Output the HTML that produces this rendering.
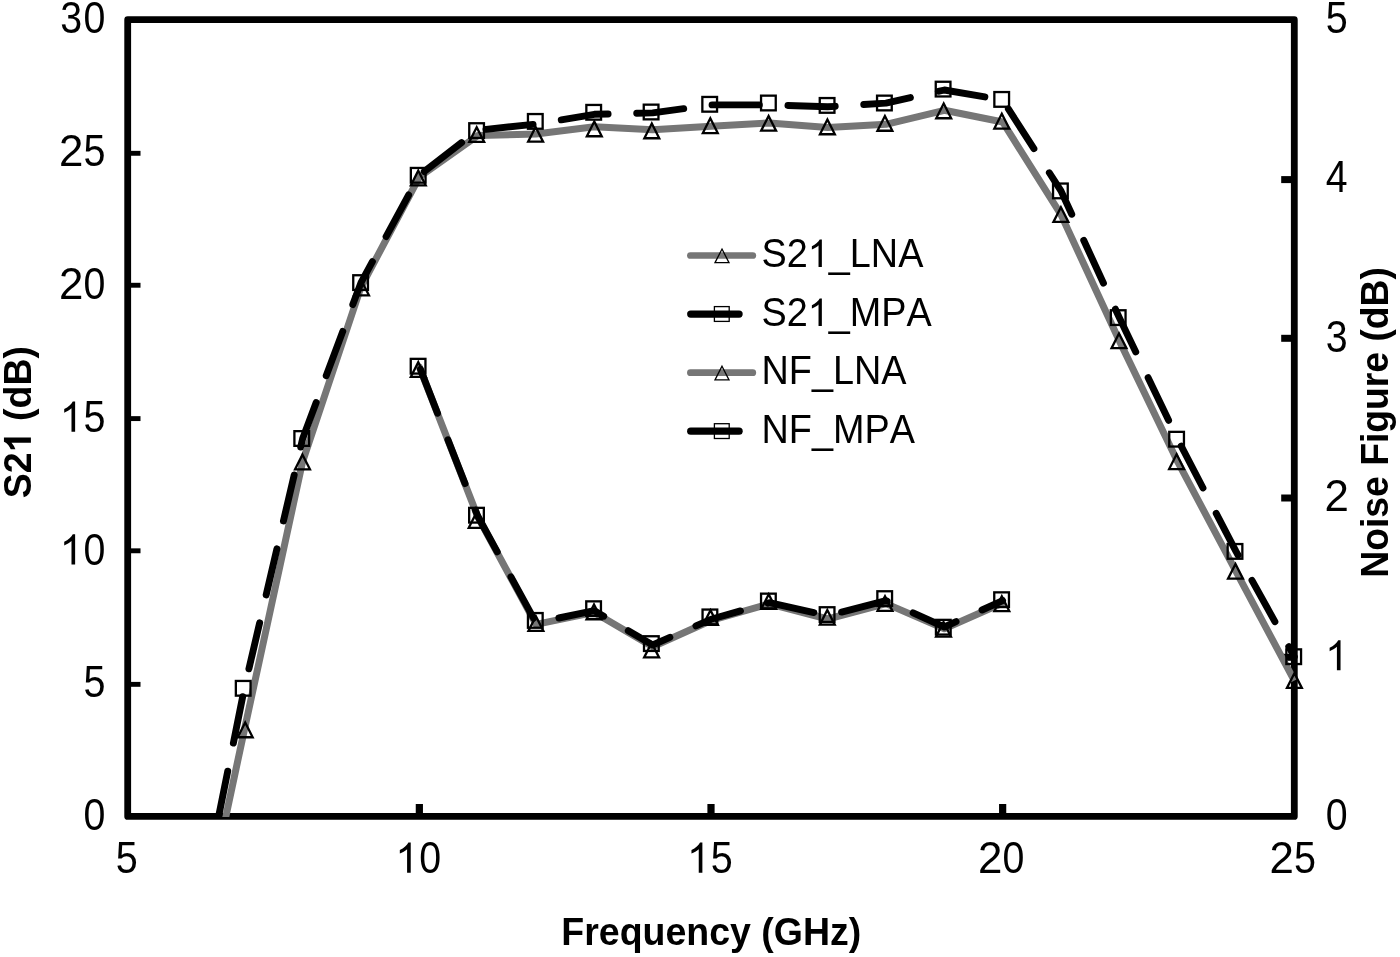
<!DOCTYPE html>
<html><head><meta charset="utf-8"><title>S21 and Noise Figure vs Frequency</title>
<style>
html,body{margin:0;padding:0;background:#fff;}
body{width:1400px;height:957px;overflow:hidden;}
svg{display:block;will-change:transform;}
text{font-family:"Liberation Sans",sans-serif;fill:#000;font-kerning:none;white-space:pre;}
.tk{font-size:41.4px;}
.ttl{font-size:37.5px;font-weight:bold;}
.lg{font-size:37.3px;}
</style></head><body>
<svg width="1400" height="957" viewBox="0 0 1400 957">
<defs><clipPath id="cp"><rect x="100" y="0" width="1300" height="817.0"/></clipPath></defs>
<rect x="0" y="0" width="1400" height="957" fill="#fff"/>

<rect x="127.7" y="19.7" width="1166.6" height="796.6999999999999" fill="none" stroke="#000" stroke-width="6.8" stroke-linejoin="round"/>
<rect x="127.7" y="681.90" width="12.8" height="4.9" fill="#000"/>
<rect x="127.7" y="548.35" width="12.8" height="4.9" fill="#000"/>
<rect x="127.7" y="416.15" width="12.8" height="4.9" fill="#000"/>
<rect x="127.7" y="282.80" width="12.8" height="4.9" fill="#000"/>
<rect x="127.7" y="150.85" width="12.8" height="4.9" fill="#000"/>
<rect x="1281.2" y="653.80" width="13.1" height="7" fill="#000"/>
<rect x="1281.2" y="494.50" width="13.1" height="7" fill="#000"/>
<rect x="1281.2" y="334.80" width="13.1" height="7" fill="#000"/>
<rect x="1281.2" y="176.10" width="13.1" height="7" fill="#000"/>
<rect x="415.75" y="804.00" width="7.2" height="12.4" fill="#000"/>
<rect x="707.40" y="804.00" width="7.2" height="12.4" fill="#000"/>
<rect x="999.05" y="804.00" width="7.2" height="12.4" fill="#000"/>
<g transform="translate(106.10,830.10)"><text class="tk" transform="translate(-22.56,0) scale(0.9500,1.062)">0</text></g>
<g transform="translate(106.10,697.32)"><text class="tk" transform="translate(-22.62,0) scale(0.9550,1.062)">5</text></g>
<g transform="translate(106.10,564.53)"><path d="M763 0H583V1147Q518 1085 412.5 1023Q307 961 223 930V1104Q374 1175 487 1276Q600 1377 647 1472H763Z" transform="translate(-46.39,0) scale(0.02021,-0.02054)"/><text class="tk" transform="translate(-22.56,0) scale(0.9500,1.062)">0</text></g>
<g transform="translate(106.10,431.75)"><path d="M763 0H583V1147Q518 1085 412.5 1023Q307 961 223 930V1104Q374 1175 487 1276Q600 1377 647 1472H763Z" transform="translate(-46.39,0) scale(0.02021,-0.02054)"/><text class="tk" transform="translate(-22.62,0) scale(0.9550,1.062)">5</text></g>
<g transform="translate(106.10,298.97)"><text class="tk" transform="translate(-47.09,0) scale(1.0600,1.062)">2</text><text class="tk" transform="translate(-22.56,0) scale(0.9500,1.062)">0</text></g>
<g transform="translate(106.10,166.18)"><text class="tk" transform="translate(-47.09,0) scale(1.0600,1.062)">2</text><text class="tk" transform="translate(-22.62,0) scale(0.9550,1.062)">5</text></g>
<g transform="translate(106.10,33.40)"><text class="tk" transform="translate(-45.82,0) scale(0.9500,1.062)">3</text><text class="tk" transform="translate(-22.56,0) scale(0.9500,1.062)">0</text></g>
<g transform="translate(1325.00,829.70)"><text class="tk" transform="translate(0.69,0) scale(0.9500,1.062)">0</text></g>
<g transform="translate(1325.00,670.36)"><path d="M763 0H583V1147Q518 1085 412.5 1023Q307 961 223 930V1104Q374 1175 487 1276Q600 1377 647 1472H763Z" transform="translate(0.12,0) scale(0.02021,-0.02054)"/></g>
<g transform="translate(1325.00,511.02)"><text class="tk" transform="translate(-0.58,0) scale(1.0600,1.062)">2</text></g>
<g transform="translate(1325.00,351.68)"><text class="tk" transform="translate(0.69,0) scale(0.9500,1.062)">3</text></g>
<g transform="translate(1325.00,192.34)"><text class="tk" transform="translate(0.71,0) scale(0.9480,1.062)">4</text></g>
<g transform="translate(1325.00,33.00)"><text class="tk" transform="translate(0.63,0) scale(0.9550,1.062)">5</text></g>
<g transform="translate(126.80,872.70)"><text class="tk" transform="translate(-10.99,0) scale(0.9550,1.062)">5</text></g>
<g transform="translate(418.45,872.70)"><path d="M763 0H583V1147Q518 1085 412.5 1023Q307 961 223 930V1104Q374 1175 487 1276Q600 1377 647 1472H763Z" transform="translate(-23.14,0) scale(0.02021,-0.02054)"/><text class="tk" transform="translate(0.69,0) scale(0.9500,1.062)">0</text></g>
<g transform="translate(710.10,872.70)"><path d="M763 0H583V1147Q518 1085 412.5 1023Q307 961 223 930V1104Q374 1175 487 1276Q600 1377 647 1472H763Z" transform="translate(-23.14,0) scale(0.02021,-0.02054)"/><text class="tk" transform="translate(0.63,0) scale(0.9550,1.062)">5</text></g>
<g transform="translate(1001.75,872.70)"><text class="tk" transform="translate(-23.83,0) scale(1.0600,1.062)">2</text><text class="tk" transform="translate(0.69,0) scale(0.9500,1.062)">0</text></g>
<g transform="translate(1293.40,872.70)"><text class="tk" transform="translate(-23.83,0) scale(1.0600,1.062)">2</text><text class="tk" transform="translate(0.63,0) scale(0.9550,1.062)">5</text></g>
<g transform="translate(30.90,422.10) rotate(-90)"><text class="ttl" transform="translate(-76.05,0) scale(1.0000,1.045)">S</text><text class="ttl" transform="translate(-51.04,0) scale(1.0000,1.045)">2</text><path d="M806 0H525V1059Q371 915 162 846V1101Q272 1137 401 1237.5Q530 1338 578 1472H806Z" transform="translate(-30.18,0) scale(0.01831,-0.01831)"/><text class="ttl" transform="translate(1.09,0) scale(1.0000,1.045)">(</text><text class="ttl" transform="translate(13.58,0) scale(1.0000,1.045)">d</text><text class="ttl" transform="translate(36.48,0) scale(1.0000,1.045)">B</text><text class="ttl" transform="translate(63.57,0) scale(1.0000,1.045)">)</text></g>
<g transform="translate(1388.00,422.40) rotate(-90)"><text class="ttl" transform="translate(-155.32,0) scale(0.9940,1.045)">N</text><text class="ttl" transform="translate(-128.40,0) scale(0.9940,1.045)">o</text><text class="ttl" transform="translate(-105.63,0) scale(0.9940,1.045)">i</text><text class="ttl" transform="translate(-95.27,0) scale(0.9940,1.045)">s</text><text class="ttl" transform="translate(-74.54,0) scale(0.9940,1.045)">e</text><text class="ttl" transform="translate(-43.45,0) scale(0.9940,1.045)">F</text><text class="ttl" transform="translate(-20.69,0) scale(0.9940,1.045)">i</text><text class="ttl" transform="translate(-10.33,0) scale(0.9940,1.045)">g</text><text class="ttl" transform="translate(12.44,0) scale(0.9940,1.045)">u</text><text class="ttl" transform="translate(35.21,0) scale(0.9940,1.045)">r</text><text class="ttl" transform="translate(49.72,0) scale(0.9940,1.045)">e</text><text class="ttl" transform="translate(80.80,0) scale(0.9940,1.045)">(</text><text class="ttl" transform="translate(93.21,0) scale(0.9940,1.045)">d</text><text class="ttl" transform="translate(115.98,0) scale(0.9940,1.045)">B</text><text class="ttl" transform="translate(142.90,0) scale(0.9940,1.045)">)</text></g>
<g transform="translate(711.30,945.00)"><text class="ttl" transform="translate(-150.02,0) scale(1.0000,1.045)">F</text><text class="ttl" transform="translate(-127.11,0) scale(1.0000,1.045)">r</text><text class="ttl" transform="translate(-112.52,0) scale(1.0000,1.045)">e</text><text class="ttl" transform="translate(-91.66,0) scale(1.0000,1.045)">q</text><text class="ttl" transform="translate(-68.76,0) scale(1.0000,1.045)">u</text><text class="ttl" transform="translate(-45.85,0) scale(1.0000,1.045)">e</text><text class="ttl" transform="translate(-24.99,0) scale(1.0000,1.045)">n</text><text class="ttl" transform="translate(-2.09,0) scale(1.0000,1.045)">c</text><text class="ttl" transform="translate(18.77,0) scale(1.0000,1.045)">y</text><text class="ttl" transform="translate(50.04,0) scale(1.0000,1.045)">(</text><text class="ttl" transform="translate(62.53,0) scale(1.0000,1.045)">G</text><text class="ttl" transform="translate(91.70,0) scale(1.0000,1.045)">H</text><text class="ttl" transform="translate(118.78,0) scale(1.0000,1.045)">z</text><text class="ttl" transform="translate(137.53,0) scale(1.0000,1.045)">)</text></g>
<g clip-path="url(#cp)">
<polyline points="186.03,1003.00 244.36,729.90 302.69,461.30 361.02,287.00 419.35,177.00 477.68,135.60 536.01,134.00 594.34,126.80 652.67,129.70 711.00,126.30 769.33,122.90 827.66,127.40 885.99,124.30 944.32,110.30 1002.65,122.00 1060.98,214.60 1119.31,340.80 1177.64,461.70 1235.97,571.30 1294.30,680.60" fill="none" stroke="#767676" stroke-width="7.0" stroke-linejoin="round" stroke-linecap="butt"/>
<polygon points="245.20,722.55 252.65,737.25 237.75,737.25" fill="none" stroke="#000" stroke-width="2.3" stroke-linejoin="miter"/>
<polygon points="302.50,454.65 309.95,469.35 295.05,469.35" fill="none" stroke="#000" stroke-width="2.3" stroke-linejoin="miter"/>
<polygon points="361.50,280.65 368.95,295.35 354.05,295.35" fill="none" stroke="#000" stroke-width="2.3" stroke-linejoin="miter"/>
<polygon points="418.30,170.65 425.75,185.35 410.85,185.35" fill="none" stroke="#000" stroke-width="2.3" stroke-linejoin="miter"/>
<polygon points="476.70,127.25 484.15,141.95 469.25,141.95" fill="none" stroke="#000" stroke-width="2.3" stroke-linejoin="miter"/>
<polygon points="535.60,126.95 543.05,141.65 528.15,141.65" fill="none" stroke="#000" stroke-width="2.3" stroke-linejoin="miter"/>
<polygon points="594.30,121.55 601.75,136.25 586.85,136.25" fill="none" stroke="#000" stroke-width="2.3" stroke-linejoin="miter"/>
<polygon points="651.80,123.55 659.25,138.25 644.35,138.25" fill="none" stroke="#000" stroke-width="2.3" stroke-linejoin="miter"/>
<polygon points="710.30,118.35 717.75,133.05 702.85,133.05" fill="none" stroke="#000" stroke-width="2.3" stroke-linejoin="miter"/>
<polygon points="768.60,115.95 776.05,130.65 761.15,130.65" fill="none" stroke="#000" stroke-width="2.3" stroke-linejoin="miter"/>
<polygon points="827.40,119.55 834.85,134.25 819.95,134.25" fill="none" stroke="#000" stroke-width="2.3" stroke-linejoin="miter"/>
<polygon points="884.90,116.05 892.35,130.75 877.45,130.75" fill="none" stroke="#000" stroke-width="2.3" stroke-linejoin="miter"/>
<polygon points="943.70,103.55 951.15,118.25 936.25,118.25" fill="none" stroke="#000" stroke-width="2.3" stroke-linejoin="miter"/>
<polygon points="1001.80,113.85 1009.25,128.55 994.35,128.55" fill="none" stroke="#000" stroke-width="2.3" stroke-linejoin="miter"/>
<polygon points="1060.90,207.25 1068.35,221.95 1053.45,221.95" fill="none" stroke="#000" stroke-width="2.3" stroke-linejoin="miter"/>
<polygon points="1119.00,333.45 1126.45,348.15 1111.55,348.15" fill="none" stroke="#000" stroke-width="2.3" stroke-linejoin="miter"/>
<polygon points="1176.60,454.35 1184.05,469.05 1169.15,469.05" fill="none" stroke="#000" stroke-width="2.3" stroke-linejoin="miter"/>
<polygon points="1235.50,563.95 1242.95,578.65 1228.05,578.65" fill="none" stroke="#000" stroke-width="2.3" stroke-linejoin="miter"/>
<polygon points="1294.40,673.25 1301.85,687.95 1286.95,687.95" fill="none" stroke="#000" stroke-width="2.3" stroke-linejoin="miter"/>
<polyline points="186.03,979.00 244.36,688.30 302.69,438.50 361.02,282.60 419.35,175.30 477.68,130.20 536.01,124.10 594.34,114.30 652.67,112.90 711.00,104.90 769.33,104.90 827.66,106.80 885.99,103.10 944.32,90.00 1002.65,100.00 1060.98,190.90 1119.31,317.60 1177.64,439.20 1235.97,551.40 1294.30,656.70" fill="none" stroke="#000" stroke-width="6.9" stroke-linejoin="round" stroke-linecap="round" stroke-dasharray="47.3 28.6" stroke-dashoffset="-12.9"/>
<rect x="235.85" y="680.95" width="14.7" height="14.7" fill="none" stroke="#000" stroke-width="2.3"/>
<rect x="294.40" y="431.15" width="14.7" height="14.7" fill="none" stroke="#000" stroke-width="2.3"/>
<rect x="353.25" y="275.25" width="14.7" height="14.7" fill="none" stroke="#000" stroke-width="2.3"/>
<rect x="410.85" y="167.95" width="14.7" height="14.7" fill="none" stroke="#000" stroke-width="2.3"/>
<rect x="469.25" y="123.25" width="14.7" height="14.7" fill="none" stroke="#000" stroke-width="2.3"/>
<rect x="527.95" y="114.05" width="14.7" height="14.7" fill="none" stroke="#000" stroke-width="2.3"/>
<rect x="586.35" y="104.95" width="14.7" height="14.7" fill="none" stroke="#000" stroke-width="2.3"/>
<rect x="643.75" y="104.65" width="14.7" height="14.7" fill="none" stroke="#000" stroke-width="2.3"/>
<rect x="702.35" y="96.95" width="14.7" height="14.7" fill="none" stroke="#000" stroke-width="2.3"/>
<rect x="761.05" y="95.65" width="14.7" height="14.7" fill="none" stroke="#000" stroke-width="2.3"/>
<rect x="819.75" y="98.05" width="14.7" height="14.7" fill="none" stroke="#000" stroke-width="2.3"/>
<rect x="877.05" y="95.65" width="14.7" height="14.7" fill="none" stroke="#000" stroke-width="2.3"/>
<rect x="935.75" y="81.75" width="14.7" height="14.7" fill="none" stroke="#000" stroke-width="2.3"/>
<rect x="994.35" y="92.05" width="14.7" height="14.7" fill="none" stroke="#000" stroke-width="2.3"/>
<rect x="1053.05" y="183.55" width="14.7" height="14.7" fill="none" stroke="#000" stroke-width="2.3"/>
<rect x="1110.85" y="310.25" width="14.7" height="14.7" fill="none" stroke="#000" stroke-width="2.3"/>
<rect x="1169.25" y="431.85" width="14.7" height="14.7" fill="none" stroke="#000" stroke-width="2.3"/>
<rect x="1227.65" y="544.05" width="14.7" height="14.7" fill="none" stroke="#000" stroke-width="2.3"/>
<rect x="1286.35" y="649.35" width="14.7" height="14.7" fill="none" stroke="#000" stroke-width="2.3"/>
<polyline points="419.35,367.00 477.68,516.50 536.01,624.40 594.34,612.40 652.67,646.70 711.00,620.50 769.33,603.90 827.66,619.00 885.99,603.60 944.32,628.70 1002.65,603.00" fill="none" stroke="#767676" stroke-width="7.0" stroke-linejoin="round" stroke-linecap="round"/>
<polygon points="418.30,362.15 425.75,376.85 410.85,376.85" fill="none" stroke="#000" stroke-width="2.3" stroke-linejoin="miter"/>
<polygon points="476.20,513.15 483.65,527.85 468.75,527.85" fill="none" stroke="#000" stroke-width="2.3" stroke-linejoin="miter"/>
<polygon points="535.90,616.25 543.35,630.95 528.45,630.95" fill="none" stroke="#000" stroke-width="2.3" stroke-linejoin="miter"/>
<polygon points="594.00,604.55 601.45,619.25 586.55,619.25" fill="none" stroke="#000" stroke-width="2.3" stroke-linejoin="miter"/>
<polygon points="651.60,642.75 659.05,657.45 644.15,657.45" fill="none" stroke="#000" stroke-width="2.3" stroke-linejoin="miter"/>
<polygon points="710.50,610.25 717.95,624.95 703.05,624.95" fill="none" stroke="#000" stroke-width="2.3" stroke-linejoin="miter"/>
<polygon points="768.70,594.25 776.15,608.95 761.25,608.95" fill="none" stroke="#000" stroke-width="2.3" stroke-linejoin="miter"/>
<polygon points="827.30,609.95 834.75,624.65 819.85,624.65" fill="none" stroke="#000" stroke-width="2.3" stroke-linejoin="miter"/>
<polygon points="885.00,596.25 892.45,610.95 877.55,610.95" fill="none" stroke="#000" stroke-width="2.3" stroke-linejoin="miter"/>
<polygon points="943.50,621.95 950.95,636.65 936.05,636.65" fill="none" stroke="#000" stroke-width="2.3" stroke-linejoin="miter"/>
<polygon points="1001.80,596.35 1009.25,611.05 994.35,611.05" fill="none" stroke="#000" stroke-width="2.3" stroke-linejoin="miter"/>
<polyline points="419.35,366.50 477.68,516.00 536.01,622.70 594.34,610.70 652.67,645.00 711.00,619.30 769.33,602.70 827.66,615.60 885.99,600.70 944.32,627.00 1002.65,600.70" fill="none" stroke="#000" stroke-width="6.9" stroke-linejoin="round" stroke-linecap="round" stroke-dasharray="47.1 28.5" stroke-dashoffset="-3.0"/>
<rect x="410.75" y="358.85" width="14.7" height="14.7" fill="none" stroke="#000" stroke-width="2.3"/>
<rect x="469.15" y="507.85" width="14.7" height="14.7" fill="none" stroke="#000" stroke-width="2.3"/>
<rect x="527.95" y="613.05" width="14.7" height="14.7" fill="none" stroke="#000" stroke-width="2.3"/>
<rect x="586.25" y="601.35" width="14.7" height="14.7" fill="none" stroke="#000" stroke-width="2.3"/>
<rect x="644.00" y="636.25" width="14.7" height="14.7" fill="none" stroke="#000" stroke-width="2.3"/>
<rect x="702.55" y="609.55" width="14.7" height="14.7" fill="none" stroke="#000" stroke-width="2.3"/>
<rect x="761.05" y="593.65" width="14.7" height="14.7" fill="none" stroke="#000" stroke-width="2.3"/>
<rect x="819.75" y="607.25" width="14.7" height="14.7" fill="none" stroke="#000" stroke-width="2.3"/>
<rect x="877.35" y="591.25" width="14.7" height="14.7" fill="none" stroke="#000" stroke-width="2.3"/>
<rect x="935.95" y="619.85" width="14.7" height="14.7" fill="none" stroke="#000" stroke-width="2.3"/>
<rect x="994.25" y="592.35" width="14.7" height="14.7" fill="none" stroke="#000" stroke-width="2.3"/>
</g>
<line x1="690.4" y1="255.5" x2="752.8" y2="255.5" stroke="#767676" stroke-width="6.7" stroke-linecap="round"/>
<polygon points="722.00,249.05 729.00,262.65 715.00,262.65" fill="none" stroke="#000" stroke-width="1.3" stroke-linejoin="miter"/>
<g transform="translate(761.50,267.00)"><text class="lg" transform="translate(0.00,0) scale(1.0140,1.076)">S</text><text class="lg" transform="translate(25.23,0) scale(1.0140,1.076)">2</text><path d="M763 0H583V1147Q518 1085 412.5 1023Q307 961 223 930V1104Q374 1175 487 1276Q600 1377 647 1472H763Z" transform="translate(46.26,0) scale(0.01847,-0.01875)"/><text class="lg" transform="translate(67.30,0) scale(1.0140,1.076)">_</text><text class="lg" transform="translate(88.33,0) scale(1.0140,1.076)">L</text><text class="lg" transform="translate(109.37,0) scale(1.0140,1.076)">N</text><text class="lg" transform="translate(136.68,0) scale(1.0140,1.076)">A</text></g>
<line x1="690.7" y1="314.1" x2="739.1" y2="314.1" stroke="#000" stroke-width="7.2" stroke-linecap="round"/>
<rect x="714.40" y="306.60" width="14.8" height="14.8" fill="none" stroke="#000" stroke-width="1.3"/>
<g transform="translate(761.50,326.00)"><text class="lg" transform="translate(0.00,0) scale(1.0140,1.076)">S</text><text class="lg" transform="translate(25.23,0) scale(1.0140,1.076)">2</text><path d="M763 0H583V1147Q518 1085 412.5 1023Q307 961 223 930V1104Q374 1175 487 1276Q600 1377 647 1472H763Z" transform="translate(46.26,0) scale(0.01847,-0.01875)"/><text class="lg" transform="translate(67.30,0) scale(1.0140,1.076)">_</text><text class="lg" transform="translate(88.33,0) scale(1.0140,1.076)">M</text><text class="lg" transform="translate(119.84,0) scale(1.0140,1.076)">P</text><text class="lg" transform="translate(145.07,0) scale(1.0140,1.076)">A</text></g>
<line x1="690.4" y1="372.7" x2="752.8" y2="372.7" stroke="#767676" stroke-width="6.7" stroke-linecap="round"/>
<polygon points="722.00,366.25 729.00,379.85 715.00,379.85" fill="none" stroke="#000" stroke-width="1.3" stroke-linejoin="miter"/>
<g transform="translate(761.50,384.20)"><text class="lg" transform="translate(0.00,0) scale(1.0140,1.076)">N</text><text class="lg" transform="translate(27.31,0) scale(1.0140,1.076)">F</text><text class="lg" transform="translate(50.42,0) scale(1.0140,1.076)">_</text><text class="lg" transform="translate(71.45,0) scale(1.0140,1.076)">L</text><text class="lg" transform="translate(92.49,0) scale(1.0140,1.076)">N</text><text class="lg" transform="translate(119.80,0) scale(1.0140,1.076)">A</text></g>
<line x1="690.7" y1="431.2" x2="739.1" y2="431.2" stroke="#000" stroke-width="7.2" stroke-linecap="round"/>
<rect x="714.40" y="423.70" width="14.8" height="14.8" fill="none" stroke="#000" stroke-width="1.3"/>
<g transform="translate(761.50,443.10)"><text class="lg" transform="translate(0.00,0) scale(1.0140,1.076)">N</text><text class="lg" transform="translate(27.31,0) scale(1.0140,1.076)">F</text><text class="lg" transform="translate(50.42,0) scale(1.0140,1.076)">_</text><text class="lg" transform="translate(71.45,0) scale(1.0140,1.076)">M</text><text class="lg" transform="translate(102.96,0) scale(1.0140,1.076)">P</text><text class="lg" transform="translate(128.19,0) scale(1.0140,1.076)">A</text></g>
</svg></body></html>
